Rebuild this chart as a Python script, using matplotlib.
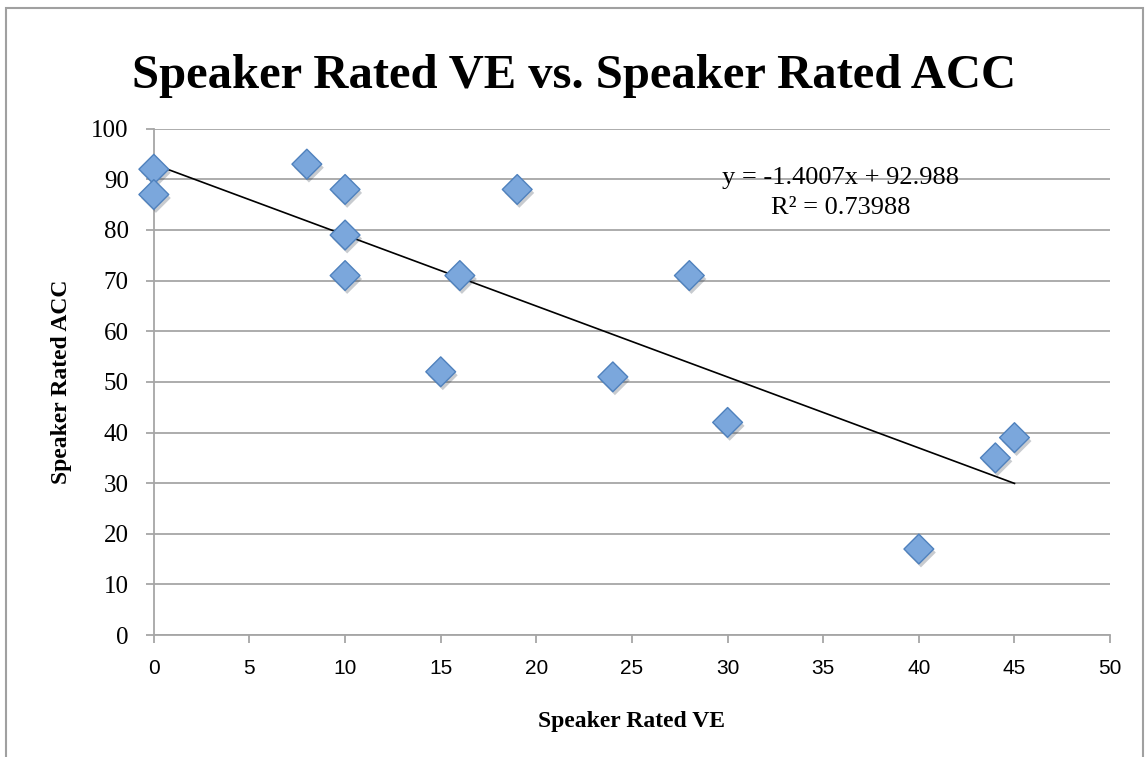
import numpy as np
import matplotlib
matplotlib.use("Agg")
import matplotlib.pyplot as plt
import matplotlib.patheffects as pe
from matplotlib.patches import Rectangle

# Data
speaker_ve = [0, 0, 8, 10, 10, 10, 15, 16, 19, 24, 28, 30, 40, 44, 45]
speaker_acc = [92, 87, 93, 88, 79, 71, 52, 71, 88, 51, 71, 42, 17, 35, 39]
x_ticks = [0, 5, 10, 15, 20, 25, 30, 35, 40, 45, 50]
y_ticks = [0, 10, 20, 30, 40, 50, 60, 70, 80, 90, 100]

SERIF = "Liberation Serif"
SANS = "Liberation Sans"
GRID = "#a6a6a6"

fig = plt.figure(figsize=(11.48, 7.57), dpi=100)
ax = fig.add_axes([0.134, 0.161, 0.833, 0.669])

# outer chart frame (bottom edge is cut off in the original)
fig.add_artist(Rectangle((6 / 1148, -0.05), 1137 / 1148, 1.05 - 8 / 757,
                         transform=fig.transFigure, fill=False,
                         edgecolor="#a0a0a0", linewidth=1.5))

# linear trendline
slope, intercept = np.polyfit(speaker_ve, speaker_acc, 1)
r2 = np.corrcoef(speaker_ve, speaker_acc)[0, 1] ** 2
xs = np.array([min(speaker_ve), max(speaker_ve)])
ax.plot(xs, slope * xs + intercept, color="black", linewidth=1.2, zorder=3)

ax.scatter(speaker_ve, speaker_acc, marker="D", s=230,
           facecolor="#7ba7dc", edgecolor="#4f81bd", linewidth=1.0, zorder=4,
           clip_on=False,
           path_effects=[pe.SimplePatchShadow(offset=(1.5, -2.5), alpha=0.25),
                         pe.Normal()])

ax.set_xlim(0, 50)
ax.set_ylim(0, 100)
ax.set_xticks(x_ticks)
ax.set_yticks(y_ticks)
ax.yaxis.grid(True, color=GRID, linewidth=1.3)
ax.set_axisbelow(True)
for side in ("top", "right"):
    ax.spines[side].set_visible(False)
for side in ("left", "bottom"):
    ax.spines[side].set_color(GRID)
    ax.spines[side].set_linewidth(1.3)
ax.tick_params(axis="both", color=GRID, width=1.3, length=6)
ax.tick_params(axis="x", pad=11)
ax.tick_params(axis="y", pad=12)
for lbl in ax.get_xticklabels():
    lbl.set_fontfamily(SANS)
    lbl.set_fontsize(15)
for lbl in ax.get_yticklabels():
    lbl.set_fontfamily(SERIF)
    lbl.set_fontsize(18)

ax.set_xlabel("Speaker Rated VE", fontfamily=SERIF, fontweight="bold",
              fontsize=17, labelpad=24)
ax.set_ylabel("Speaker Rated ACC", fontfamily=SERIF, fontweight="bold",
              fontsize=17, labelpad=14)

fig.text(0.5, 0.90, "Speaker Rated VE vs. Speaker Rated ACC",
         ha="center", va="center", fontfamily=SERIF, fontweight="bold",
         fontsize=35)

ax.text(35.9, 90.3, f"y = {slope:.4f}x + {intercept:.3f}",
        ha="center", va="center", fontfamily=SERIF, fontsize=19)
ax.text(35.9, 84.4, f"R\u00b2 = {r2:.5f}",
        ha="center", va="center", fontfamily=SERIF, fontsize=19)

fig.savefig("out.png", dpi=100)
